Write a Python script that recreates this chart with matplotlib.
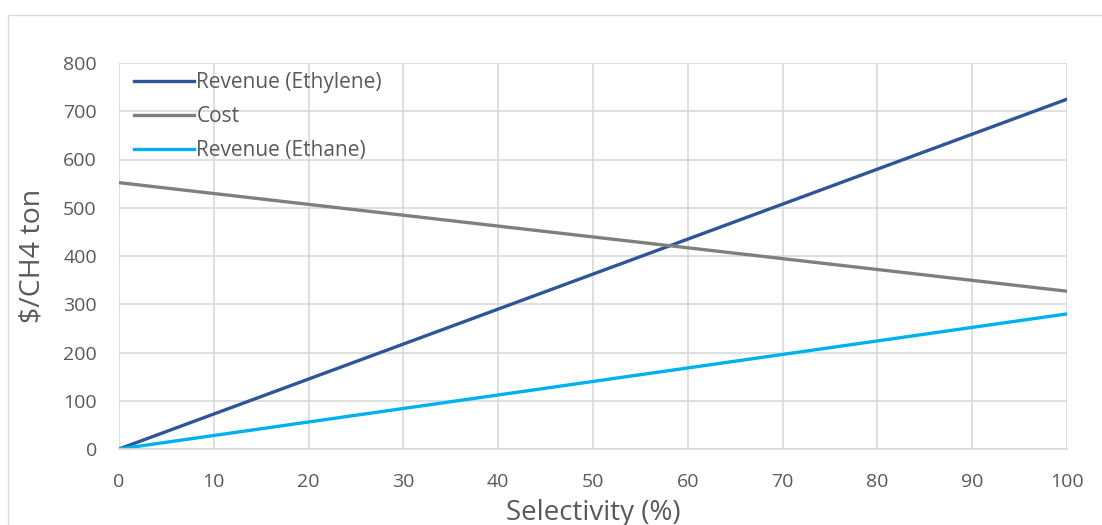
import matplotlib
matplotlib.use("Agg")
import matplotlib.pyplot as plt
from matplotlib.patches import Rectangle

selectivity = [0, 10, 20, 30, 40, 50, 60, 70, 80, 90, 100]
revenue_ethylene = [0, 72.5, 145, 217.5, 290, 362.5, 435, 507.5, 580, 652.5, 725]
cost = [552, 529.5, 507, 484.5, 462, 439.5, 417, 394.5, 372, 349.5, 327]
revenue_ethane = [0, 28, 56, 84, 112, 140, 168, 196, 224, 252, 280]

plt.rcParams['font.family'] = ['Open Sans', 'DejaVu Sans']

fig = plt.figure(figsize=(11.02, 5.25), dpi=100)
fig.patches.append(Rectangle((8/1102, -0.1), 2, 1.1 - 15/525, transform=fig.transFigure,
                             fill=False, edgecolor='#d9d9d9', lw=1.0))
ax = fig.add_axes([119/1102, 76/525, (1067-119)/1102, (449-63)/525])

ax.plot(selectivity, revenue_ethylene, color='#2F5597', lw=2.4, label='Revenue (Ethylene)')
ax.plot(selectivity, cost, color='#7F7F7F', lw=2.4, label='Cost')
ax.plot(selectivity, revenue_ethane, color='#00B0F0', lw=2.4, label='Revenue (Ethane)')

ax.set_xlim(0, 100)
ax.set_ylim(0, 800)
ax.set_xticks(range(0, 101, 10))
ax.set_yticks(range(0, 801, 100))
ax.grid(True, color='#d9d9d9', lw=1.2)
ax.set_axisbelow(True)
for s in ['top', 'right', 'left']:
    ax.spines[s].set_visible(False)
ax.spines['bottom'].set_color('#d9d9d9')
ax.spines['bottom'].set_linewidth(1.2)
ax.tick_params(length=0, labelsize=14, labelcolor='#595959')
ax.tick_params(axis='x', pad=17)
ax.tick_params(axis='y', pad=16)
ax.set_xlabel('Selectivity (%)', fontsize=20, color='#595959', labelpad=6)
ax.set_ylabel(r'\$/CH4 ton', fontsize=20.5, color='#595959', labelpad=12)

leg = ax.legend(loc='upper left', frameon=False, fontsize=15, handlelength=2.9,
                handletextpad=0.1, labelspacing=0.62, borderaxespad=0.0,
                bbox_to_anchor=(0.007, 0.997))
for t in leg.get_texts():
    t.set_color('#595959')

fig.savefig('out.png', dpi=100)
